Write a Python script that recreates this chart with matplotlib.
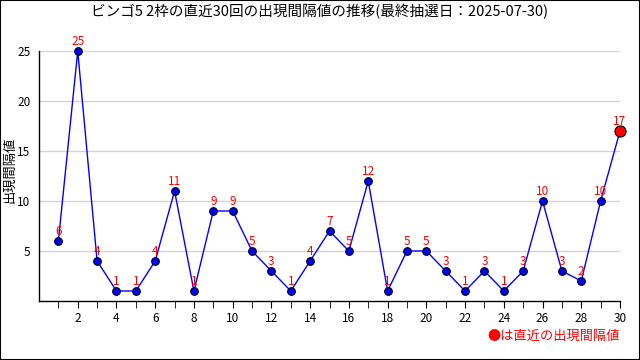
import matplotlib
matplotlib.use("Agg")
import matplotlib.pyplot as plt
from matplotlib.patches import Rectangle

plt.rcParams['font.family'] = ['Noto Sans CJK JP', 'DejaVu Sans']

draws = list(range(1, 31))
values = [6, 25, 4, 1, 1, 4, 11, 1, 9, 9, 5, 3, 1, 4, 7, 5, 12, 1, 5, 5, 3, 1, 3, 1, 3, 10, 3, 2, 10, 17]
yticks = [5, 10, 15, 20, 25]
xticks_major = list(range(2, 31, 2))
title = "ビンゴ5 2枠の直近30回の出現間隔値の推移(最終抽選日：2025-07-30)"
ylabel = "出現間隔値"
note = "●は直近の出現間隔値"

fig = plt.figure(figsize=(6.4, 3.6), dpi=100)
ax = fig.add_axes([39/640, 59/360, 581/640, 250/360])

for y in yticks:
    ax.axhline(y, color='#d3d3d3', lw=1, zorder=0)

ax.plot(draws, values, color='blue', lw=1, zorder=2, clip_on=False)
ax.plot(draws[:-1], values[:-1], 'o', ms=5.5, mfc='blue', mec='black', mew=0.8, zorder=3, clip_on=False)
ax.plot(draws[-1:], values[-1:], 'o', ms=8, mfc='red', mec='black', mew=0.8, zorder=3, clip_on=False)

for x, v in zip(draws, values):
    ax.annotate(str(v), (x, v), xytext=(0, 2.5), textcoords='offset points',
                ha='center', va='bottom', color='red', fontsize=8.5, zorder=4,
                annotation_clip=False)

ax.set_xlim(0, 30)
ax.set_ylim(0, 25)
ax.set_yticks(yticks)
ax.set_xticks(xticks_major)
ax.set_xticks(draws, minor=True)
ax.tick_params(axis='y', length=0, labelsize=8.5, pad=6)
ax.tick_params(axis='x', which='both', direction='out', length=5, labelsize=8.5, pad=3)
for s in ['top', 'right']:
    ax.spines[s].set_visible(False)
ax.spines['left'].set_linewidth(1)
ax.spines['bottom'].set_linewidth(1)

fig.text(0.5, 1 - 12/360, title, ha='center', va='center', fontsize=10.5)
fig.text(10/640, 1 - 170/360, ylabel, rotation=90, ha='center', va='center', fontsize=9.5)
fig.text(620/640, 1 - 336/360, note, ha='right', va='center', color='red', fontsize=9.5)

fig.patches.append(Rectangle((0, 0), 1, 1, transform=fig.transFigure, fill=False,
                             edgecolor='black', lw=1.5))

fig.savefig('out.png', dpi=100)
